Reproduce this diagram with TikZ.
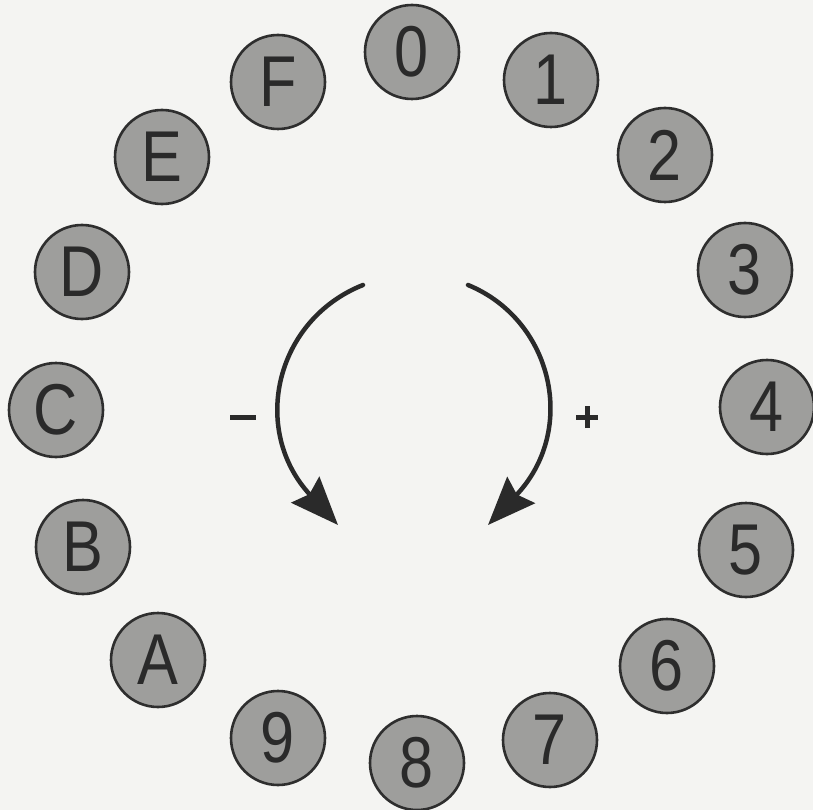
\documentclass[tikz,border=0pt]{standalone}
\usepackage{fontspec}
\setmainfont{Liberation Sans}[FakeStretch=0.85]
\usetikzlibrary{arrows.meta}
\definecolor{paper}{HTML}{F4F4F2}
\definecolor{keyfill}{HTML}{9E9E9C}
\definecolor{keyedge}{HTML}{2E2E2E}
\definecolor{ink}{HTML}{2A2A2A}
\tikzset{
  key/.style={circle, draw=keyedge, line width=2.6pt, fill=keyfill,
    minimum size=94pt, inner sep=0pt, text=ink,
    font=\fontsize{72}{72}\selectfont},
  turn/.style={draw=ink, line width=4.5pt, line cap=round,
    -{Stealth[length=48pt, width=38pt, inset=6pt]}},
  sign/.style={text=ink, inner sep=0pt}
}
\begin{document}
\begin{tikzpicture}[x=1pt,y=-1pt]
\fill[paper] (0,0) rectangle (813,810);
\useasboundingbox (0,0) rectangle (813,810);
\node[key] (k0) at (412,52) {0};
\node[key] (k1) at (551,80) {1};
\node[key] (k2) at (665,155) {2};
\node[key] (k3) at (745,270) {3};
\node[key] (k4) at (767,407) {4};
\node[key] (k5) at (746,550) {5};
\node[key] (k6) at (667,666) {6};
\node[key] (k7) at (550,740) {7};
\node[key] (k8) at (417,763) {8};
\node[key] (k9) at (278,738) {9};
\node[key] (kA) at (158,660) {A};
\node[key] (kB) at (83,547) {B};
\node[key] (kC) at (56,410) {C};
\node[key] (kD) at (82,272) {D};
\node[key] (kE) at (162,157) {E};
\node[key] (kF) at (278,82) {F};
\coordinate (ls) at (363,285);
\coordinate (le) at (338,525);
\coordinate (rs) at (468,285);
\coordinate (re) at (488,525);
\draw[turn] (ls) .. controls (275,320) and (250,430) .. (le);
\draw[turn] (rs) .. controls (553,320) and (578,430) .. (re);
\node[sign] (minus) at (243,417) {\rule{26pt}{5pt}};
\node[sign] (plus) at (587,417) {\rule{22pt}{5pt}\kern-13.5pt\raisebox{-8.5pt}{\rule{5pt}{22pt}}\kern8.5pt};
\end{tikzpicture}
\end{document}
